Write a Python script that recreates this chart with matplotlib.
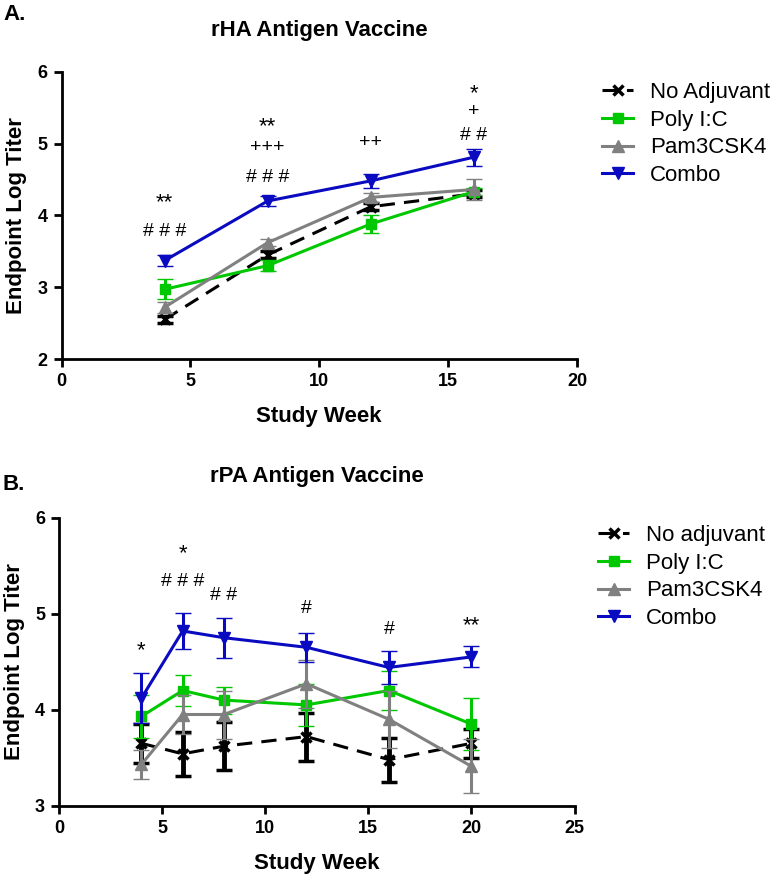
import matplotlib
matplotlib.use("Agg")
import matplotlib.pyplot as plt

plt.rcParams['font.family'] = ['Liberation Sans', 'DejaVu Sans']

# ---------------- data ----------------
weeks_A = [4, 8, 12, 16]
noadj_A = [2.55, 3.45, 4.12, 4.30]
noadj_A_err = [0.05, 0.05, 0.05, 0.05]
poly_A = [2.97, 3.30, 3.88, 4.33]
poly_A_err = [0.14, 0.08, 0.12, 0.05]
pam_A = [2.72, 3.62, 4.25, 4.36]
pam_A_err = [0.08, 0.05, 0.06, 0.15]
combo_A = [3.37, 4.20, 4.48, 4.81]
combo_A_err = [0.08, 0.07, 0.10, 0.12]

weeks_B = [4, 6, 8, 12, 16, 20]
noadj_B = [3.65, 3.54, 3.62, 3.72, 3.48, 3.65]
noadj_B_err = [0.20, 0.23, 0.25, 0.25, 0.23, 0.15]
poly_B = [3.93, 4.20, 4.10, 4.05, 4.20, 3.85]
poly_B_err = [0.22, 0.16, 0.14, 0.22, 0.20, 0.27]
pam_B = [3.43, 3.95, 3.95, 4.27, 3.90, 3.41]
pam_B_err = [0.15, 0.20, 0.25, 0.25, 0.30, 0.28]
combo_B = [4.12, 4.82, 4.75, 4.65, 4.44, 4.55]
combo_B_err = [0.26, 0.19, 0.21, 0.15, 0.17, 0.11]

labels_A = ['No Adjuvant', 'Poly I:C', 'Pam3CSK4', 'Combo']
labels_B = ['No adjuvant', 'Poly I:C', 'Pam3CSK4', 'Combo']

annot_A_x = [4, 4, 8, 8, 8, 12, 16, 16, 16]
annot_A_y = [4.17, 3.77, 5.24, 4.95, 4.53, 5.01, 5.70, 5.45, 5.11]
annot_A_t = ['**', '# # #', '**', '+++', '# # #', '++', '*', '+', '# #']

annot_B_x = [4, 6, 6, 8, 12, 16, 20]
annot_B_y = [4.61, 5.62, 5.34, 5.19, 5.05, 4.84, 4.88]
annot_B_t = ['*', '*', '# # #', '# #', '#', '#', '**']

# ---------------- styles ----------------
W, H = 775, 876
colors = ['black', '#00c800', '#808080', '#0a0ac0']
markers = ['x', 's', '^', 'v']
styles = ['--', '-', '-', '-']
msizes = [7, 7, 8, 8]

fig = plt.figure(figsize=(W / 100, H / 100), dpi=100)


def px_axes(left, top, right, bottom):
    return fig.add_axes([left / W, 1 - bottom / H, (right - left) / W, (bottom - top) / H])


def style_axes(ax):
    for s in ['top', 'right']:
        ax.spines[s].set_visible(False)
    for s in ['left', 'bottom']:
        ax.spines[s].set_linewidth(2)
    ax.tick_params(direction='out', length=6, width=2, pad=4, labelsize=13)
    for lab in ax.get_xticklabels() + ax.get_yticklabels():
        lab.set_fontweight('bold')


def draw_panel(ax, weeks, series, errs, labels, xlim, xticks, ylim, yticks,
               title, ax_x, ax_y, ax_t, legend_anchor, black_err_lw):
    handles = []
    for i, (vals, e) in enumerate(zip(series, errs)):
        elw = black_err_lw if i == 0 else 2.2
        cont = ax.errorbar(weeks, vals, yerr=e, color=colors[i], marker=markers[i],
                           ls=styles[i], lw=2.2, ms=msizes[i], mew=2.5 if i == 0 else 1,
                           capsize=5.5, capthick=elw, elinewidth=elw, zorder=2 + i,
                           dashes=(5, 3) if i == 0 else (None, None), clip_on=False)
        handles.append(cont[0])
    ax.set_xlim(*xlim)
    ax.set_xticks(xticks)
    ax.set_ylim(*ylim)
    ax.set_yticks(yticks)
    style_axes(ax)
    ax.set_xlabel('Study Week', fontsize=16, fontweight='bold')
    ax.set_ylabel('Endpoint Log Titer', fontsize=16, fontweight='bold')
    ax.yaxis.set_label_coords(-0.066, 0.5)
    ax.xaxis.set_label_coords(0.5, -0.165)
    ax.set_title(title, fontsize=16, fontweight='bold', pad=26)
    for x, y, t in zip(ax_x, ax_y, ax_t):
        fs = 16 if t.startswith('*') else 14
        ax.text(x, y, t, ha='center', va='center', fontsize=fs, clip_on=False)
    fig.legend(handles, labels, loc='upper left',
               bbox_to_anchor=legend_anchor, bbox_transform=fig.transFigure,
               frameon=False, fontsize=16, handlelength=1.4, handletextpad=0.75,
               labelspacing=0.3, borderpad=0, borderaxespad=0, numpoints=1)


axA = px_axes(61.5, 71.7, 577, 359)
draw_panel(axA, weeks_A, [noadj_A, poly_A, pam_A, combo_A],
           [noadj_A_err, poly_A_err, pam_A_err, combo_A_err], labels_A,
           (0, 20), [0, 5, 10, 15, 20], (2, 6), [2, 3, 4, 5, 6],
           'rHA Antigen Vaccine', annot_A_x, annot_A_y, annot_A_t,
           (602 / W, 1 - 82 / H), 2.2)

axB = px_axes(58.9, 517.7, 574.6, 805.7)
draw_panel(axB, weeks_B, [noadj_B, poly_B, pam_B, combo_B],
           [noadj_B_err, poly_B_err, pam_B_err, combo_B_err], labels_B,
           (0, 25), [0, 5, 10, 15, 20, 25], (3, 6), [3, 4, 5, 6],
           'rPA Antigen Vaccine', annot_B_x, annot_B_y, annot_B_t,
           (598 / W, 1 - 525 / H), 3.5)

fig.text(3 / W, 1 - 15 / H, 'A.', fontsize=16, fontweight='bold', va='center', ha='left')
fig.text(3 / W, 1 - 484 / H, 'B.', fontsize=16, fontweight='bold', va='center', ha='left')

fig.savefig('out.png', dpi=100)
